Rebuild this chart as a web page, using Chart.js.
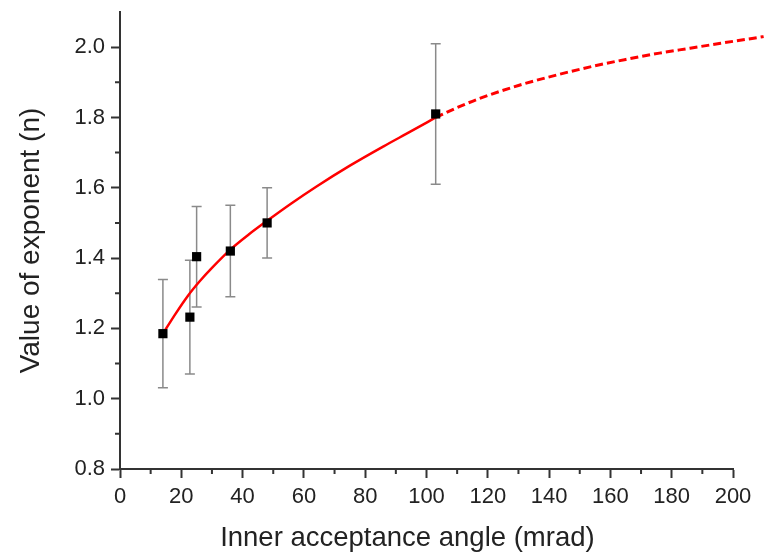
<!DOCTYPE html>
<html>
<head>
<meta charset="utf-8">
<script src="https://cdn.jsdelivr.net/npm/chart.js@4"></script>
<style>
  html, body { margin: 0; padding: 0; background: #fff; }
</style>
</head>
<body>
<canvas id="chart" width="769" height="555"></canvas>
<script>
// measured points (angle in mrad, exponent n, +/- error)
const angle = [14, 22.8, 25, 36, 48, 103];
const exponent = [1.185, 1.232, 1.404, 1.42, 1.50, 1.81];
const errBar = [0.154, 0.162, 0.143, 0.13, 0.10, 0.20];

// fitted curve, solid part
const fitX = [14, 18, 22, 26, 30, 36, 42, 48, 56, 64, 75, 86, 95, 103];
const fitY = [1.185, 1.24, 1.291, 1.334, 1.372, 1.424, 1.467, 1.506, 1.556, 1.603, 1.663, 1.718, 1.761, 1.80];

// extrapolated part (dashed), runs past the end of the axis
const extX = [103, 110, 117, 130, 143, 155, 165, 176, 186, 196, 210];
const extY = [1.80, 1.828, 1.853, 1.891, 1.922, 1.947, 1.965, 1.983, 1.997, 2.011, 2.030];

// minor tick positions
const xMinor = [10, 30, 50, 70, 90, 110, 130, 150, 170, 190];
const yMinor = [0.9, 1.1, 1.3, 1.5, 1.7, 1.9];

const toPts = (xs, ys) => xs.map((v, i) => ({ x: v, y: ys[i] }));

const errorBars = {
  id: 'errorBars',
  beforeDatasetsDraw(chart) {
    const { ctx, scales: { x, y } } = chart;
    ctx.save();
    ctx.strokeStyle = '#8a8a8a';
    ctx.lineWidth = 1.5;
    angle.forEach((a, i) => {
      const px = x.getPixelForValue(a);
      const top = y.getPixelForValue(exponent[i] + errBar[i]);
      const bot = y.getPixelForValue(exponent[i] - errBar[i]);
      ctx.beginPath();
      ctx.moveTo(px, top); ctx.lineTo(px, bot);
      ctx.moveTo(px - 5, top); ctx.lineTo(px + 5, top);
      ctx.moveTo(px - 5, bot); ctx.lineTo(px + 5, bot);
      ctx.stroke();
    });
    ctx.restore();
  }
};

const minorTicks = {
  id: 'minorTicks',
  afterDraw(chart) {
    const { ctx, scales: { x, y }, chartArea } = chart;
    ctx.save();
    ctx.strokeStyle = '#333';
    ctx.lineWidth = 2;
    ctx.beginPath();
    xMinor.forEach(v => {
      const px = x.getPixelForValue(v);
      ctx.moveTo(px, chartArea.bottom);
      ctx.lineTo(px, chartArea.bottom + 5);
    });
    yMinor.forEach(v => {
      const py = y.getPixelForValue(v);
      ctx.moveTo(chartArea.left, py);
      ctx.lineTo(chartArea.left - 5, py);
    });
    ctx.stroke();
    ctx.restore();
  }
};

const font = { family: '"Liberation Sans", Arial, sans-serif' };

new Chart(document.getElementById('chart').getContext('2d'), {
  type: 'scatter',
  data: {
    datasets: [
      {
        label: 'data',
        data: toPts(angle, exponent),
        showLine: false,
        pointStyle: 'rect',
        pointRadius: 6.5,
        pointBackgroundColor: '#000',
        pointBorderColor: '#000',
        pointBorderWidth: 0,
        order: 0
      },
      {
        label: 'fit',
        data: toPts(fitX, fitY),
        showLine: true,
        borderColor: '#ff0000',
        borderWidth: 2.5,
        pointRadius: 0,
        cubicInterpolationMode: 'monotone',
        order: 1
      },
      {
        label: 'extrapolation',
        data: toPts(extX, extY),
        showLine: true,
        borderColor: '#ff0000',
        borderWidth: 3,
        borderDash: [8, 4],
        pointRadius: 0,
        cubicInterpolationMode: 'monotone',
        clip: false,
        order: 1
      }
    ]
  },
  options: {
    responsive: false,
    animation: false,
    events: [],
    layout: { padding: { left: 14, right: 36, top: 12, bottom: 0 } },
    plugins: { legend: { display: false }, tooltip: { enabled: false } },
    scales: {
      x: {
        type: 'linear',
        min: 0, max: 200,
        afterFit: s => { s.height = 86; s.paddingLeft = 0; s.paddingRight = 0; },
        border: { color: '#333', width: 2 },
        grid: { drawOnChartArea: false, drawTicks: true, tickLength: 9, tickColor: '#333', tickWidth: 2 },
        ticks: { stepSize: 20, color: '#222', padding: 6, maxRotation: 0, font: { ...font, size: 22 } },
        title: {
          display: true,
          text: 'Inner acceptance angle (mrad)' + '\u00a0'.repeat(5),
          color: '#222',
          padding: { top: 0, bottom: 0 },
          font: { ...font, size: 27.5 }
        }
      },
      y: {
        type: 'linear',
        min: 0.8, max: 2.1,
        afterFit: s => { s.width = 106; s.paddingTop = 0; s.paddingBottom = 0; },
        border: { color: '#333', width: 2 },
        grid: { drawOnChartArea: false, drawTicks: true, tickLength: 9, tickColor: '#333', tickWidth: 2 },
        ticks: {
          stepSize: 0.2, includeBounds: false, color: '#222', padding: 6,
          font: { ...font, size: 22 },
          callback: v => v.toFixed(1)
        },
        title: {
          display: true,
          text: 'Value of exponent (n)',
          color: '#222',
          padding: { top: 0, bottom: 0 },
          font: { ...font, size: 28 }
        }
      }
    }
  },
  plugins: [errorBars, minorTicks]
});
</script>
</body>
</html>
